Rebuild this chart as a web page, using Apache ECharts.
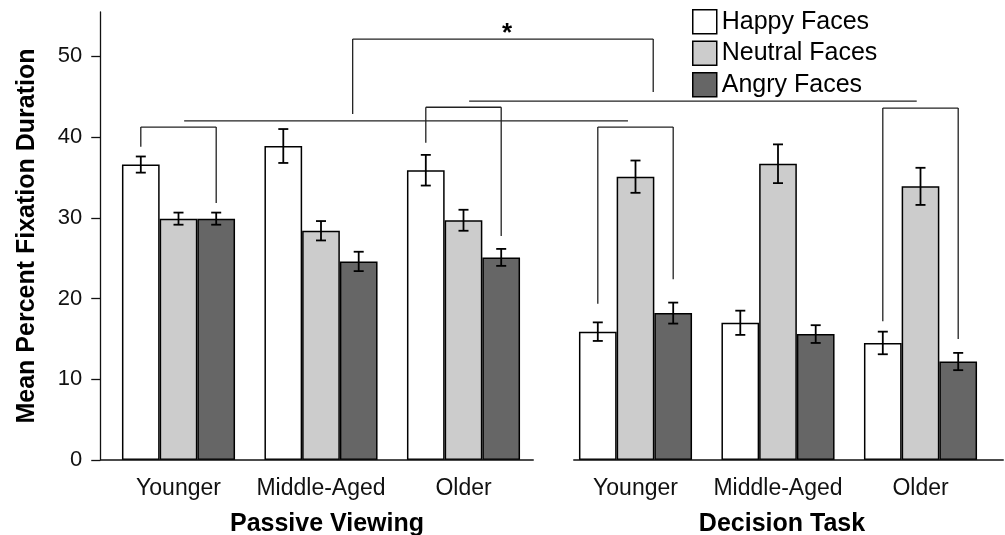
<!DOCTYPE html>
<html>
<head>
<meta charset="utf-8">
<script src="https://cdn.jsdelivr.net/npm/echarts@6/dist/echarts.min.js"></script>
<style>html,body{margin:0;padding:0;background:#fff;}#c{width:1005px;height:535px;}</style>
</head>
<body>
<div id="c"></div>
<script>
// ---------- data ----------
const categories = ['Younger', 'Middle-Aged', 'Older'];
const panelTitles = ['Passive Viewing', 'Decision Task'];
const seriesNames = ['Happy Faces', 'Neutral Faces', 'Angry Faces'];
const yTicks = [0, 10, 20, 30, 40, 50];
const yTitle = 'Mean Percent Fixation Duration';

const passiveHappy = [36.6, 38.9, 35.9];
const passiveHappyErr = [1.0, 2.1, 1.9];
const passiveNeutral = [29.9, 28.4, 29.7];
const passiveNeutralErr = [0.75, 1.2, 1.3];
const passiveAngry = [29.9, 24.6, 25.1];
const passiveAngryErr = [0.75, 1.2, 1.05];

const decisionHappy = [15.9, 17.0, 14.5];
const decisionHappyErr = [1.15, 1.5, 1.4];
const decisionNeutral = [35.1, 36.7, 33.9];
const decisionNeutralErr = [2.0, 2.4, 2.3];
const decisionAngry = [18.2, 15.6, 12.2];
const decisionAngryErr = [1.3, 1.1, 1.07];

// significance brackets: panel, category, bar index (left/right), top value, leg bottoms
const brackets = [
  { panel: 0, cat: 0, from: 0, to: 2, top: 41.25, leftEnd: 38.8, rightEnd: 31.85 },
  { panel: 0, cat: 2, from: 0, to: 2, top: 43.7, leftEnd: 39.3, rightEnd: 27.75 },
  { panel: 1, cat: 0, from: 0, to: 2, top: 41.25, leftEnd: 19.35, rightEnd: 22.4 },
  { panel: 1, cat: 2, from: 0, to: 2, top: 43.6, leftEnd: 17.2, rightEnd: 15.0 }
];
// connecting lines: [panel, category, offset in bar widths from category centre], value
const spanLines = [
  { a: [0, 0, 0.15], b: [1, 0, -0.2], y: 42.0 },
  { a: [0, 2, 0.15], b: [1, 2, -0.1], y: 44.45 }
];
// star bracket
const starBracket = { a: [0, 1, 0.84], b: [1, 0, 0.47], top: 52.15, leftEnd: 42.85, rightEnd: 45.6, label: '*' };

// ---------- styles / layout ----------
const FONT = '"Liberation Sans", Arial, Helvetica, sans-serif';
const colors = ['#ffffff', '#cccccc', '#666666'];
const BAR_W = 37.7;
const GRID_TOP = 12, GRID_H = 448, GRID_W = 427.5;
const gridLefts = [107.25, 564.25];
const Y_MAX = 55.5;

const chart = echarts.init(document.getElementById('c'), null, { renderer: 'canvas' });

const panelData = [
  [[passiveHappy, passiveHappyErr], [passiveNeutral, passiveNeutralErr], [passiveAngry, passiveAngryErr]],
  [[decisionHappy, decisionHappyErr], [decisionNeutral, decisionNeutralErr], [decisionAngry, decisionAngryErr]]
];

const grids = gridLefts.map(l => ({ left: l, top: GRID_TOP, width: GRID_W, height: GRID_H, containLabel: false, outerBoundsMode: 'none' }));

const xAxes = panelTitles.map((t, p) => ({
  type: 'category', gridIndex: p, data: categories,
  axisLine: { show: false },
  axisTick: { show: false },
  axisLabel: { interval: 0, hideOverlap: false, fontSize: 23, fontFamily: FONT, color: '#111', margin: 17 },
  name: t, nameLocation: 'middle', nameGap: 52,
  nameTextStyle: { fontSize: 25, fontWeight: 'bold', fontFamily: FONT, color: '#000', padding: p === 0 ? [0, 0, 0, 12] : [0, 0, 0, 8] }
}));

const yAxes = [0, 1].map(p => ({
  type: 'value', gridIndex: p, min: 0, max: Y_MAX, show: p === 0,
  offset: 7,
  splitLine: { show: false },
  axisLine: { show: true, lineStyle: { color: '#111', width: 1.3 } },
  axisTick: { show: true, length: 9, lineStyle: { color: '#111', width: 1.3 }, customValues: yTicks },
  axisLabel: { fontSize: 22, fontFamily: FONT, color: '#111', margin: 18, padding: [4, 0, 0, 0], customValues: yTicks },
  name: p === 0 ? yTitle : '', nameLocation: 'middle', nameGap: 61, nameRotate: 90,
  nameTextStyle: { fontSize: 25, fontWeight: 'bold', fontFamily: FONT, color: '#000' }
}));

const series = [];
panelData.forEach((pd, p) => {
  pd.forEach((sd, j) => {
    series.push({
      type: 'bar', name: seriesNames[j], xAxisIndex: p, yAxisIndex: p,
      data: sd[0], barWidth: BAR_W, barGap: '0%',
      itemStyle: { color: colors[j], borderColor: '#000', borderWidth: 1.5 },
      emphasis: { disabled: true }, z: 2
    });
  });
  pd.forEach((sd, j) => {
    series.push({
      type: 'custom', name: 'err' + p + j, xAxisIndex: p, yAxisIndex: p, z: 5,
      data: sd[0].map((v, i) => [i, v, sd[1][i]]),
      encode: { x: 0, y: 1 },
      renderItem: function (params, api) {
        const i = api.value(0), m = api.value(1), e = api.value(2);
        const hi = api.coord([i, m + e]);
        const lo = api.coord([i, m - e]);
        const x = hi[0] + (j - 1) * BAR_W;
        const st = { stroke: '#000', lineWidth: 1.8 };
        return {
          type: 'group', children: [
            { type: 'line', shape: { x1: x, y1: hi[1], x2: x, y2: lo[1] }, style: st },
            { type: 'line', shape: { x1: x - 5, y1: hi[1], x2: x + 5, y2: hi[1] }, style: st },
            { type: 'line', shape: { x1: x - 5, y1: lo[1], x2: x + 5, y2: lo[1] }, style: st }
          ]
        };
      }
    });
  });
});

chart.setOption({
  animation: false,
  backgroundColor: '#fff',
  textStyle: { fontFamily: FONT },
  grid: grids, xAxis: xAxes, yAxis: yAxes, series: series,
  legend: {
    data: seriesNames, orient: 'vertical', left: 692, top: 9, padding: 0,
    itemWidth: 24, itemHeight: 24, itemGap: 6, icon: 'rect',
    itemStyle: { borderColor: '#000', borderWidth: 1.5 },
    textStyle: { fontSize: 25, fontFamily: FONT, color: '#000' },
    selectedMode: false
  }
});

// ---------- annotations computed from axes ----------
function px(p, cat, off, val) {
  const pt = chart.convertToPixel({ xAxisIndex: p, yAxisIndex: p }, [cat, val]);
  return [pt[0] + off * BAR_W, pt[1]];
}
const lineStyle = { stroke: '#222', lineWidth: 1.3 };
const gfx = [];
function seg(a, b) {
  gfx.push({ type: 'line', shape: { x1: a[0], y1: a[1], x2: b[0], y2: b[1] }, style: lineStyle, z: 10 });
}
brackets.forEach(b => {
  const lt = px(b.panel, b.cat, b.from - 1, b.top), rt = px(b.panel, b.cat, b.to - 1, b.top);
  const lb = px(b.panel, b.cat, b.from - 1, b.leftEnd), rb = px(b.panel, b.cat, b.to - 1, b.rightEnd);
  seg(lb, lt); seg(lt, rt); seg(rt, rb);
});
spanLines.forEach(s => {
  seg(px(s.a[0], s.a[1], s.a[2], s.y), px(s.b[0], s.b[1], s.b[2], s.y));
});
{
  const s = starBracket;
  const lt = px(s.a[0], s.a[1], s.a[2], s.top), rt = px(s.b[0], s.b[1], s.b[2], s.top);
  const lb = px(s.a[0], s.a[1], s.a[2], s.leftEnd), rb = px(s.b[0], s.b[1], s.b[2], s.rightEnd);
  seg(lb, lt); seg(lt, rt); seg(rt, rb);
  gfx.push({ type: 'text', x: (lt[0] + rt[0]) / 2 + 4, y: lt[1] - 5, z: 10,
    style: { text: s.label, fontSize: 26, fontWeight: 'bold', fontFamily: FONT, fill: '#000', align: 'center', verticalAlign: 'middle' } });
}
// baselines (x-axis lines) for each panel
const base0 = chart.convertToPixel({ yAxisIndex: 0 }, 0);
const baseExt = [[gridLefts[0] - 7, gridLefts[0] + GRID_W - 1], [gridLefts[1] + 9, gridLefts[1] + GRID_W + 12]];
baseExt.forEach(e => gfx.push({ type: 'line', shape: { x1: e[0], y1: base0, x2: e[1], y2: base0 }, style: { stroke: '#111', lineWidth: 1.3 }, z: 3 }));
chart.setOption({ graphic: gfx });
</script>
</body>
</html>
